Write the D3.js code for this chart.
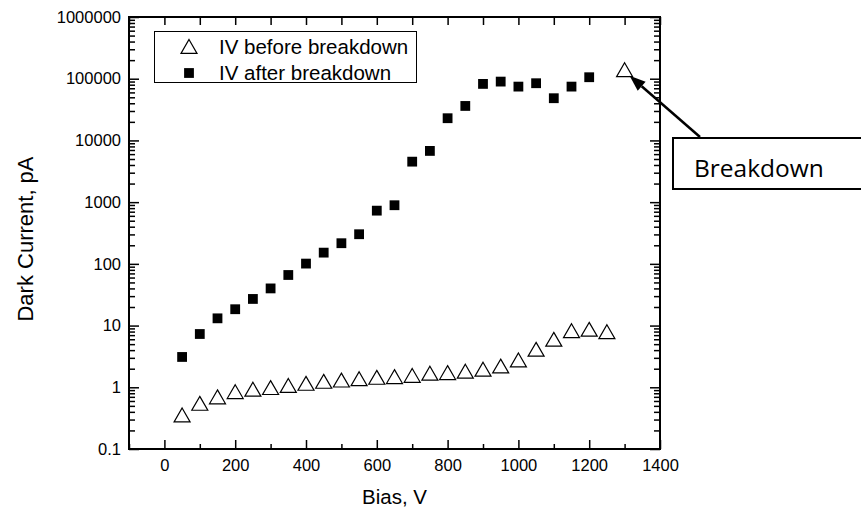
<!DOCTYPE html>
<html>
<head>
<meta charset="utf-8">
<script src="https://cdn.jsdelivr.net/npm/d3@7"></script>
<style>
  body { margin: 0; background: #fff; }
  svg { display: block; font-family: "Liberation Sans", Arial, sans-serif; }
</style>
</head>
<body>
<div id="chart"></div>
<script>
// IV before breakdown (triangles), last point is the breakdown itself
const biasBefore = [50, 100, 150, 200, 250, 300, 350, 400, 450, 500, 550, 600, 650,
                    700, 750, 800, 850, 900, 950, 1000, 1050, 1100, 1150, 1200, 1250, 1300];
const currentBefore = [0.356, 0.55, 0.70, 0.85, 0.93, 0.99, 1.07, 1.16, 1.25, 1.31, 1.38, 1.45, 1.49,
                       1.56, 1.69, 1.73, 1.82, 1.96, 2.21, 2.77, 4.13, 6.0, 8.27, 8.71, 7.96, 140000];

// IV after breakdown (filled squares)
const biasAfter = [50, 100, 150, 200, 250, 300, 350, 400, 450, 500, 550, 600,
                   650, 700, 750, 800, 850, 900, 950, 1000, 1050, 1100, 1150, 1200];
const currentAfter = [3.1, 7.3, 13.1, 18.4, 27, 40, 66, 101, 152, 216, 302, 728,
                      891, 4530, 6760, 22900, 36200, 82400, 89800, 74500, 84500, 48300, 74500, 105700];

const xTicks = [0, 200, 400, 600, 800, 1000, 1200, 1400];
const xTickLabels = ["0", "200", "400", "600", "800", "1000", "1200", "1400"];
const yTicks = [0.1, 1, 10, 100, 1000, 10000, 100000, 1000000];
const yTickLabels = ["0.1", "1", "10", "100", "1000", "10000", "100000", "1000000"];

const width = 861, height = 510;
const plot = {left: 129, top: 17, right: 660, bottom: 449};

const svg = d3.select("#chart").append("svg")
    .attr("width", width)
    .attr("height", height);

const x = d3.scaleLinear().domain([-100, 1400]).range([plot.left, plot.right]);
const y = d3.scaleLog().domain([0.1, 1000000]).range([plot.bottom, plot.top]);

// minor tick positions
const xMinor = d3.range(-100, 1401, 100).filter(v => xTicks.indexOf(v) < 0);
const yMinor = [];
for (let e = -1; e < 6; e++) {
    for (let m = 2; m <= 9; m++) yMinor.push(m * Math.pow(10, e));
}

function cleanAxis(g) {
    g.select(".domain").remove();
    g.selectAll("line").attr("stroke", "#000").attr("stroke-width", 1.5);
    g.selectAll("text")
      .attr("fill", "#000")
      .style("font-size", "16.5px")
      .style("font-family", "'Liberation Sans', Arial, sans-serif");
}

// bottom
svg.append("g")
    .attr("transform", `translate(0,${plot.bottom})`)
    .call(d3.axisBottom(x).tickValues(xTicks).tickSize(-9).tickPadding(10)
        .tickFormat((d, i) => xTickLabels[i]))
    .call(cleanAxis);
svg.append("g")
    .attr("transform", `translate(0,${plot.bottom})`)
    .call(d3.axisBottom(x).tickValues(xMinor).tickSize(-5).tickFormat(""))
    .call(cleanAxis);
// top
svg.append("g")
    .attr("transform", `translate(0,${plot.top})`)
    .call(d3.axisTop(x).tickValues(d3.range(-100, 1401, 100)).tickSize(-8).tickFormat(""))
    .call(cleanAxis);
// left
svg.append("g")
    .attr("transform", `translate(${plot.left},0)`)
    .call(d3.axisLeft(y).tickValues(yTicks).tickSize(-10).tickPadding(8)
        .tickFormat((d, i) => yTickLabels[i]))
    .call(cleanAxis);
svg.append("g")
    .attr("transform", `translate(${plot.left},0)`)
    .call(d3.axisLeft(y).tickValues(yMinor).tickSize(-6).tickFormat(""))
    .call(cleanAxis);
// right
svg.append("g")
    .attr("transform", `translate(${plot.right},0)`)
    .call(d3.axisRight(y).tickValues(yTicks).tickSize(-10).tickFormat(""))
    .call(cleanAxis);
svg.append("g")
    .attr("transform", `translate(${plot.right},0)`)
    .call(d3.axisRight(y).tickValues(yMinor).tickSize(-6).tickFormat(""))
    .call(cleanAxis);

// frame
svg.append("rect")
    .attr("x", plot.left)
    .attr("y", plot.top)
    .attr("width", plot.right - plot.left)
    .attr("height", plot.bottom - plot.top)
    .attr("fill", "none")
    .attr("stroke", "#000")
    .attr("stroke-width", 2);

// axis titles
svg.append("text")
    .attr("x", (plot.left + plot.right) / 2)
    .attr("y", 504)
    .attr("text-anchor", "middle")
    .style("font-size", "20.5px")
    .text("Bias, V");

svg.append("text")
    .attr("transform", `translate(33,239) rotate(-90)`)
    .attr("text-anchor", "middle")
    .style("font-size", "22px")
    .text("Dark Current, pA");

// symbols
const triSize = 111;
const triOffset = Math.sqrt(triSize / (3 * Math.sqrt(3))) / 2;
const triangle = d3.symbol().type(d3.symbolTriangle).size(triSize);
const square = d3.symbol().type(d3.symbolSquare).size(96);

const before = biasBefore.map((b, i) => ({bias: b, current: currentBefore[i]}));
const after = biasAfter.map((b, i) => ({bias: b, current: currentAfter[i]}));

svg.append("g").selectAll("path")
    .data(after)
    .enter().append("path")
      .attr("d", square)
      .attr("transform", d => `translate(${x(d.bias)},${y(d.current)})`)
      .attr("fill", "#000");

svg.append("g").selectAll("path")
    .data(before)
    .enter().append("path")
      .attr("d", triangle)
      .attr("transform", d => `translate(${x(d.bias)},${y(d.current) + triOffset})`)
      .attr("fill", "#fff")
      .attr("stroke", "#000")
      .attr("stroke-width", 1.2);

// legend
const legend = svg.append("g");
legend.append("rect")
    .attr("x", 154.5).attr("y", 31.5)
    .attr("width", 262).attr("height", 51)
    .attr("fill", "#fff")
    .attr("stroke", "#000")
    .attr("stroke-width", 1);
legend.append("path")
    .attr("d", triangle)
    .attr("transform", `translate(189,${46.5 + triOffset})`)
    .attr("fill", "#fff").attr("stroke", "#000").attr("stroke-width", 1.2);
legend.append("path")
    .attr("d", square)
    .attr("transform", "translate(189,73)")
    .attr("fill", "#000");
legend.append("text").attr("x", 219).attr("y", 54).style("font-size", "20.5px").text("IV before breakdown");
legend.append("text").attr("x", 219).attr("y", 80).style("font-size", "20.5px").text("IV after breakdown");

// breakdown annotation
const last = before[before.length - 1];
const tip = [x(last.bias) + 5, y(last.current) + 6];
const start = [700, 137];
const dx = start[0] - tip[0], dy = start[1] - tip[1];
const len = Math.sqrt(dx * dx + dy * dy);
const ux = dx / len, uy = dy / len;
const headLen = 16, headW = 6;
const base = [tip[0] + ux * headLen, tip[1] + uy * headLen];

svg.append("line")
    .attr("x1", start[0]).attr("y1", start[1])
    .attr("x2", base[0]).attr("y2", base[1])
    .attr("stroke", "#000")
    .attr("stroke-width", 2.5);
svg.append("path")
    .attr("d", `M${tip[0]},${tip[1]}L${base[0] - uy * headW},${base[1] + ux * headW}L${base[0] + uy * headW},${base[1] - ux * headW}Z`)
    .attr("fill", "#000");

svg.append("rect")
    .attr("x", 673).attr("y", 138)
    .attr("width", 200).attr("height", 51)
    .attr("fill", "#fff")
    .attr("stroke", "#000")
    .attr("stroke-width", 2);
svg.append("text")
    .attr("x", 694).attr("y", 177)
    .style("font-family", "'Open Sans', sans-serif")
    .style("font-size", "24.5px")
    .text("Breakdown");
</script>
</body>
</html>
